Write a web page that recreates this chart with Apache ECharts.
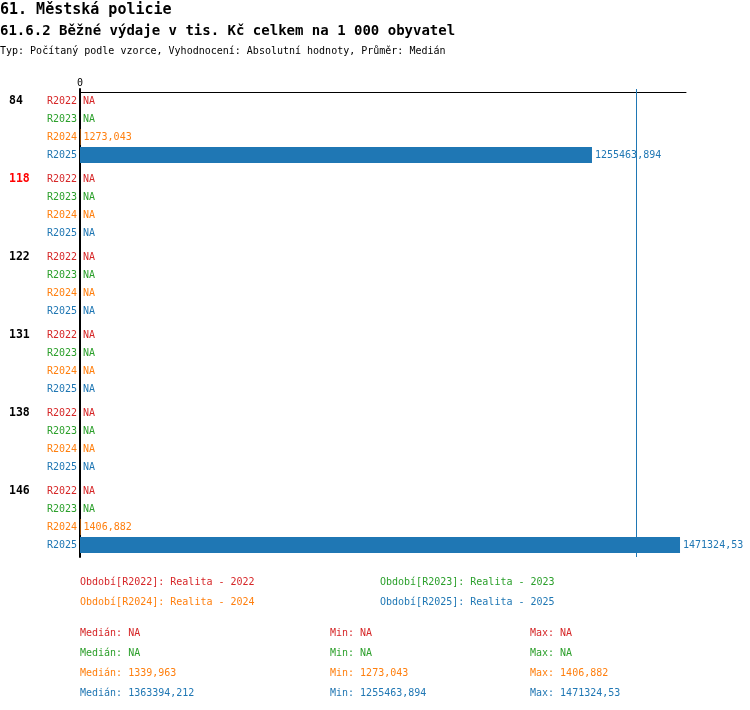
<!DOCTYPE html>
<html>
<head>
<meta charset="utf-8">
<script src="https://cdn.jsdelivr.net/npm/echarts@6/dist/echarts.min.js"></script>
<style>html,body{margin:0;padding:0;background:#fff}#c{width:750px;height:710px}</style>
</head>
<body>
<div id="c"></div>
<script>
var groups = ['84', '118', '122', '131', '138', '146'];
var highlighted = ['118'];
var periods = ['R2022', 'R2023', 'R2024', 'R2025'];
var periodNames = ['Realita - 2022', 'Realita - 2023', 'Realita - 2024', 'Realita - 2025'];
var colors = ['#d62728', '#2ca02c', '#ff7f0e', '#1f77b4'];
var r2022 = [null, null, null, null, null, null];
var r2023 = [null, null, null, null, null, null];
var r2024 = [1273.043, null, null, null, null, 1406.882];
var r2025 = [1255463.894, null, null, null, null, 1471324.53];
var seriesValues = [r2022, r2023, r2024, r2025];
var xTicks = [0];

var FONT = '"DejaVu Sans Mono", "Liberation Mono", monospace';

function fmt(v) {
  if (v == null) return 'NA';
  var r = Math.round(Number((v * 1000).toFixed(4))) / 1000;
  return String(r).replace('.', ',');
}
function stats(arr) {
  var a = arr.filter(function (v) { return v != null; }).sort(function (x, y) { return x - y; });
  if (!a.length) return { med: null, min: null, max: null };
  var n = a.length;
  var med = n % 2 ? a[(n - 1) / 2] : (a[n / 2 - 1] + a[n / 2]) / 2;
  return { med: med, min: a[0], max: a[n - 1] };
}

var series = [];
seriesValues.forEach(function (vals, i) {
  var st = stats(vals);
  series.push({
    type: 'bar', name: periods[i] + '_lbl', stack: 's' + i,
    data: groups.map(function () { return 0; }),
    itemStyle: { color: colors[i] },
    label: { show: true, position: 'left', distance: 3, formatter: periods[i],
      color: colors[i], fontFamily: FONT, fontSize: 10 },
    silent: true
  });
  var s = {
    type: 'bar', name: periods[i], stack: 's' + i,
    barGap: '12.5%', barCategoryGap: '10.26%',
    data: vals.map(function (v) { return { value: v == null ? 0 : v, na: v == null }; }),
    itemStyle: { color: colors[i] },
    label: { show: true, position: 'right', distance: 3,
      formatter: function (p) { return p.data.na ? 'NA' : fmt(p.value); },
      color: colors[i], fontFamily: FONT, fontSize: 10 }
  };
  if (i === 3 && st.med != null) {
    s.markLine = { silent: true, symbol: 'none', label: { show: false },
      lineStyle: { color: colors[i], width: 1, type: 'solid' },
      data: [{ xAxis: st.med }] };
  }
  series.push(s);
});

var titles = [
  { text: '61. Městská policie', left: 0, top: 3, padding: 0,
    textStyle: { fontFamily: FONT, fontSize: 15, fontWeight: 'bold', color: '#000' } },
  { text: '61.6.2 Běžné výdaje v tis. Kč celkem na 1 000 obyvatel', left: 0, top: 24, padding: 0,
    textStyle: { fontFamily: FONT, fontSize: 14, fontWeight: 'bold', color: '#000' } },
  { text: 'Typ: Počítaný podle vzorce, Vyhodnocení: Absolutní hodnoty, Průměr: Medián', left: 0, top: 46, padding: 0,
    textStyle: { fontFamily: FONT, fontSize: 10, fontWeight: 'normal', color: '#000' } }
];
seriesValues.forEach(function (vals, i) {
  var st = stats(vals);
  var items = [['Medián: ', st.med, 80], ['Min: ', st.min, 330], ['Max: ', st.max, 530]];
  items.forEach(function (it) {
    titles.push({ text: it[0] + fmt(it[1]), left: it[2], top: 628 + i * 20, padding: 0,
      textStyle: { fontFamily: FONT, fontSize: 10, fontWeight: 'normal', color: colors[i] } });
  });
});

var legendPos = [[75, 577], [375, 577], [75, 597], [375, 597]];
var legends = periods.map(function (p, i) {
  return {
    data: [{ name: p, textStyle: { color: colors[i] } }],
    left: legendPos[i][0], top: legendPos[i][1], padding: 0,
    itemWidth: 0, itemHeight: 0, icon: 'rect', selectedMode: false,
    formatter: function (name) { return 'Období[' + name + ']: ' + periodNames[periods.indexOf(name)]; },
    textStyle: { fontFamily: FONT, fontSize: 10, color: colors[i] }
  };
});

var chart = echarts.init(document.getElementById('c'), null, { renderer: 'canvas' });
chart.setOption({
  animation: false,
  backgroundColor: '#fff',
  title: titles,
  legend: legends,
  grid: { left: 80, right: 64, top: 89, height: 468, containLabel: false },
  xAxis: {
    type: 'value', position: 'top', min: 0, max: 1486000, offset: -3,
    axisLine: { show: true, onZero: false, lineStyle: { color: '#000', width: 1 } },
    axisTick: { show: false },
    splitLine: { show: false },
    axisLabel: { show: true, margin: 4, fontFamily: FONT, fontSize: 10, color: '#000',
      formatter: function (v) { return xTicks.indexOf(v) >= 0 ? String(v) : ''; } }
  },
  yAxis: {
    type: 'category', inverse: true, data: groups,
    axisLine: { show: true, lineStyle: { color: '#000', width: 2 } },
    axisTick: { show: false },
    splitLine: { show: false },
    axisLabel: { show: true, align: 'left', margin: 71, lineHeight: 18,
      fontFamily: FONT, fontSize: 11.5, fontWeight: 'bold',
      formatter: function (v) { return v + '\n \n \n '; },
      color: function (v) { return highlighted.indexOf(v) >= 0 ? '#ff0000' : '#000'; } }
  },
  series: series
});
</script>
</body>
</html>
